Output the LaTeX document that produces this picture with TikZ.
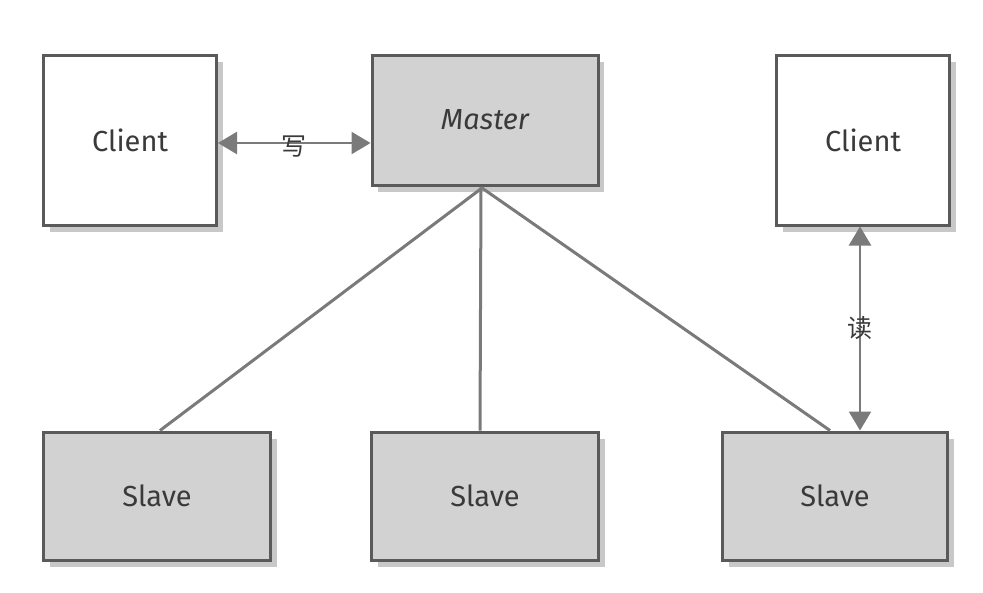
\documentclass[tikz,border=0pt]{standalone}
\usepackage{fontspec}
\setmainfont{Fira Sans}
\newfontfamily\cjk{Noto Sans CJK SC}
\usetikzlibrary{shadows,arrows.meta}
\definecolor{boxline}{HTML}{5A5A5A}
\definecolor{boxfill}{HTML}{D2D2D2}
\definecolor{conn}{HTML}{7A7A7A}
\definecolor{txt}{HTML}{3A3A3A}
\tikzset{
  box/.style={draw=boxline, line width=3pt, minimum width=#1, inner sep=0pt,
    drop shadow={shadow xshift=6pt, shadow yshift=-7pt, opacity=0.3, fill=black!70},
    font=\fontsize{29}{34}\selectfont, text=txt},
  clientbox/.style={box=173pt, minimum height=170pt, fill=white},
  masterbox/.style={box=226pt, minimum height=130pt, fill=boxfill},
  slavebox/.style={box=227pt, minimum height=128pt, fill=boxfill},
  link/.style={draw=conn, line width=3pt},
  dbl/.style={draw=conn, line width=2.5pt, {Triangle[length=19pt,width=22pt]}-{Triangle[length=19pt,width=22pt]}, fill=conn},
  lbl/.style={font=\cjk\fontsize{25}{27}\selectfont, text=txt, inner sep=1pt}
}
\begin{document}
\begin{tikzpicture}[x=1pt,y=-1pt]
\path[use as bounding box, fill=white] (0,0) rectangle (983,592);
\node[clientbox] (c1) at (130,140) {Client};
\node[masterbox] (m) at (485,120) {\itshape Master};
\node[clientbox] (c2) at (863,140) {Client};
\node[slavebox] (s1) at (157,496) {Slave};
\node[slavebox] (s2) at (485,496) {Slave};
\node[slavebox, minimum width=225pt] (s3) at (835,496) {Slave};
\coordinate (mb) at (482,188);
\draw[link] (mb) -- ([xshift=3pt]s1.north);
\draw[link] ([xshift=-4pt]m.south) -- ([xshift=-5pt]s2.north);
\draw[link] (mb) -- ([xshift=-5pt]s3.north);
\draw[dbl] ([yshift=-3pt]c1.east) -- node[lbl, pos=0.5, yshift=-4pt] {写} ([yshift=-23pt]m.west);
\draw[dbl] ([xshift=-3pt]c2.south) -- node[lbl] {读} ([xshift=25pt]s3.north);
\end{tikzpicture}
\end{document}
